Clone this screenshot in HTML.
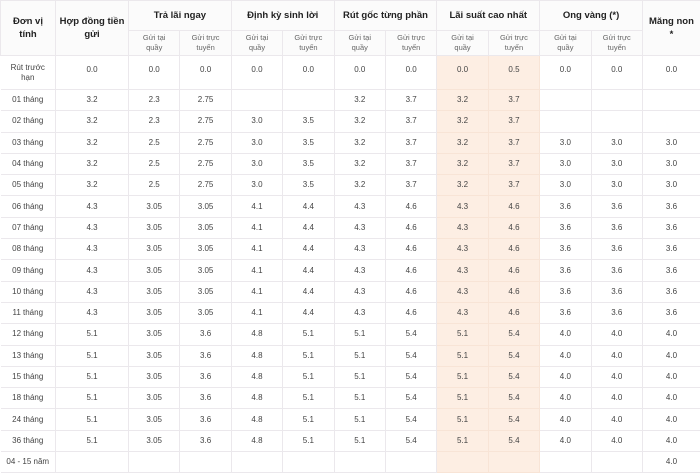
<!DOCTYPE html>
<html><head><meta charset="utf-8"><style>
html,body{margin:0;padding:0;background:#fff;width:700px;height:476px;overflow:hidden}
table{border-collapse:collapse;table-layout:fixed;position:absolute;left:0;top:0;width:700px;font-family:"Liberation Sans",sans-serif;color:#444}
td,th{border:1px solid #ebe8ec;text-align:center;vertical-align:middle;padding:0;font-size:8px;line-height:10px;font-weight:normal}
tr{height:21.3px}
th{background:#fbfbfb;color:#222}
th.g{font-weight:bold;font-size:9.5px;line-height:13px}
th.s{font-size:7.5px;color:#666;line-height:10px}
td.h{background:#fdeee3;border-color:#f8e4d6}
table tr td:first-child{border-left:none}
</style></head><body>
<table>
<colgroup><col style="width:55px"><col style="width:73px"><col span="10" style="width:51.4px"><col style="width:58px"></colgroup>
<tr style="height:30px"><th class="g" rowspan="2">Đơn vị<br>tính</th><th class="g" rowspan="2">Hợp đồng tiền<br>gửi</th><th class="g" colspan="2">Trả lãi ngay</th><th class="g" colspan="2">Định kỳ sinh lời</th><th class="g" colspan="2">Rút gốc từng phần</th><th class="g" colspan="2">Lãi suất cao nhất</th><th class="g" colspan="2">Ong vàng (*)</th><th class="g" rowspan="2">Măng non<br>*</th></tr>
<tr style="height:25px"><th class="s">Gửi tại<br>quầy</th><th class="s">Gửi trực<br>tuyến</th><th class="s">Gửi tại<br>quầy</th><th class="s">Gửi trực<br>tuyến</th><th class="s">Gửi tại<br>quầy</th><th class="s">Gửi trực<br>tuyến</th><th class="s">Gửi tại<br>quầy</th><th class="s">Gửi trực<br>tuyến</th><th class="s">Gửi tại<br>quầy</th><th class="s">Gửi trực<br>tuyến</th></tr>
<tr style="height:34px"><td>Rút trước<br>hạn</td><td style="vertical-align:top;padding-top:9px">0.0</td><td style="vertical-align:top;padding-top:9px">0.0</td><td style="vertical-align:top;padding-top:9px">0.0</td><td style="vertical-align:top;padding-top:9px">0.0</td><td style="vertical-align:top;padding-top:9px">0.0</td><td style="vertical-align:top;padding-top:9px">0.0</td><td style="vertical-align:top;padding-top:9px">0.0</td><td class="h" style="vertical-align:top;padding-top:9px">0.0</td><td class="h" style="vertical-align:top;padding-top:9px">0.5</td><td style="vertical-align:top;padding-top:9px">0.0</td><td style="vertical-align:top;padding-top:9px">0.0</td><td style="vertical-align:top;padding-top:9px">0.0</td></tr>
<tr><td>01 tháng</td><td>3.2</td><td>2.3</td><td>2.75</td><td></td><td></td><td>3.2</td><td>3.7</td><td class="h">3.2</td><td class="h">3.7</td><td></td><td></td><td></td></tr>
<tr><td>02 tháng</td><td>3.2</td><td>2.3</td><td>2.75</td><td>3.0</td><td>3.5</td><td>3.2</td><td>3.7</td><td class="h">3.2</td><td class="h">3.7</td><td></td><td></td><td></td></tr>
<tr><td>03 tháng</td><td>3.2</td><td>2.5</td><td>2.75</td><td>3.0</td><td>3.5</td><td>3.2</td><td>3.7</td><td class="h">3.2</td><td class="h">3.7</td><td>3.0</td><td>3.0</td><td>3.0</td></tr>
<tr><td>04 tháng</td><td>3.2</td><td>2.5</td><td>2.75</td><td>3.0</td><td>3.5</td><td>3.2</td><td>3.7</td><td class="h">3.2</td><td class="h">3.7</td><td>3.0</td><td>3.0</td><td>3.0</td></tr>
<tr><td>05 tháng</td><td>3.2</td><td>2.5</td><td>2.75</td><td>3.0</td><td>3.5</td><td>3.2</td><td>3.7</td><td class="h">3.2</td><td class="h">3.7</td><td>3.0</td><td>3.0</td><td>3.0</td></tr>
<tr><td>06 tháng</td><td>4.3</td><td>3.05</td><td>3.05</td><td>4.1</td><td>4.4</td><td>4.3</td><td>4.6</td><td class="h">4.3</td><td class="h">4.6</td><td>3.6</td><td>3.6</td><td>3.6</td></tr>
<tr><td>07 tháng</td><td>4.3</td><td>3.05</td><td>3.05</td><td>4.1</td><td>4.4</td><td>4.3</td><td>4.6</td><td class="h">4.3</td><td class="h">4.6</td><td>3.6</td><td>3.6</td><td>3.6</td></tr>
<tr><td>08 tháng</td><td>4.3</td><td>3.05</td><td>3.05</td><td>4.1</td><td>4.4</td><td>4.3</td><td>4.6</td><td class="h">4.3</td><td class="h">4.6</td><td>3.6</td><td>3.6</td><td>3.6</td></tr>
<tr><td>09 tháng</td><td>4.3</td><td>3.05</td><td>3.05</td><td>4.1</td><td>4.4</td><td>4.3</td><td>4.6</td><td class="h">4.3</td><td class="h">4.6</td><td>3.6</td><td>3.6</td><td>3.6</td></tr>
<tr><td>10 tháng</td><td>4.3</td><td>3.05</td><td>3.05</td><td>4.1</td><td>4.4</td><td>4.3</td><td>4.6</td><td class="h">4.3</td><td class="h">4.6</td><td>3.6</td><td>3.6</td><td>3.6</td></tr>
<tr><td>11 tháng</td><td>4.3</td><td>3.05</td><td>3.05</td><td>4.1</td><td>4.4</td><td>4.3</td><td>4.6</td><td class="h">4.3</td><td class="h">4.6</td><td>3.6</td><td>3.6</td><td>3.6</td></tr>
<tr><td>12 tháng</td><td>5.1</td><td>3.05</td><td>3.6</td><td>4.8</td><td>5.1</td><td>5.1</td><td>5.4</td><td class="h">5.1</td><td class="h">5.4</td><td>4.0</td><td>4.0</td><td>4.0</td></tr>
<tr><td>13 tháng</td><td>5.1</td><td>3.05</td><td>3.6</td><td>4.8</td><td>5.1</td><td>5.1</td><td>5.4</td><td class="h">5.1</td><td class="h">5.4</td><td>4.0</td><td>4.0</td><td>4.0</td></tr>
<tr><td>15 tháng</td><td>5.1</td><td>3.05</td><td>3.6</td><td>4.8</td><td>5.1</td><td>5.1</td><td>5.4</td><td class="h">5.1</td><td class="h">5.4</td><td>4.0</td><td>4.0</td><td>4.0</td></tr>
<tr><td>18 tháng</td><td>5.1</td><td>3.05</td><td>3.6</td><td>4.8</td><td>5.1</td><td>5.1</td><td>5.4</td><td class="h">5.1</td><td class="h">5.4</td><td>4.0</td><td>4.0</td><td>4.0</td></tr>
<tr><td>24 tháng</td><td>5.1</td><td>3.05</td><td>3.6</td><td>4.8</td><td>5.1</td><td>5.1</td><td>5.4</td><td class="h">5.1</td><td class="h">5.4</td><td>4.0</td><td>4.0</td><td>4.0</td></tr>
<tr><td>36 tháng</td><td>5.1</td><td>3.05</td><td>3.6</td><td>4.8</td><td>5.1</td><td>5.1</td><td>5.4</td><td class="h">5.1</td><td class="h">5.4</td><td>4.0</td><td>4.0</td><td>4.0</td></tr>
<tr><td>04 - 15 năm</td><td></td><td></td><td></td><td></td><td></td><td></td><td></td><td class="h"></td><td class="h"></td><td></td><td></td><td>4.0</td></tr>
</table>
</body></html>
